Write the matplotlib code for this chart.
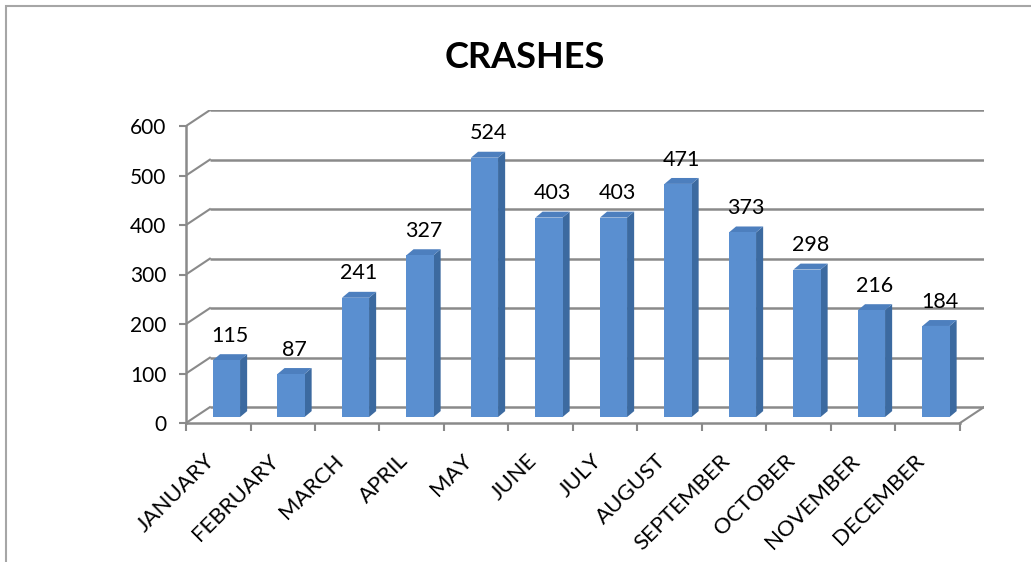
import numpy as np
import matplotlib
matplotlib.use('Agg')
import matplotlib.pyplot as plt
from matplotlib.patches import Polygon, Rectangle

# Datos
meses = ['JANUARY', 'FEBRUARY', 'MARCH', 'APRIL', 'MAY', 'JUNE', 'JULY',
         'AUGUST', 'SEPTEMBER', 'OCTOBER', 'NOVEMBER', 'DECEMBER']
choques = [115, 87, 241, 327, 524, 403, 403, 471, 373, 298, 216, 184]
y_ticks = [0, 100, 200, 300, 400, 500, 600]

plt.rcParams['font.family'] = ['Lato', 'DejaVu Sans']

fig = plt.figure(figsize=(10.31, 5.62), dpi=100)
# marco del grafico (se sale por la derecha y por abajo)
fig.patches.append(Rectangle((6 / 1031, -0.05), 1.1, 1 - 6 / 562 + 0.05,
                             transform=fig.transFigure, fill=False,
                             edgecolor='#a6a6a6', linewidth=1.5))

# profundidad 3D en unidades de datos
dx, dy = 0.37, 32          # pared del fondo
bx, by = 0.128, 12         # posicion frontal de la barra
sx, sy = 0.11, 12          # lado de la barra
w = 0.42
ymax = 600

ax = fig.add_axes([186 / 1031, (562 - 423) / 562, (12 + dx) * 64.5 / 1031, (ymax + dy) * 0.495 / 562])
ax.set_xlim(0, 12 + dx)
ax.set_ylim(0, ymax + dy)

grid_c = '#8a8a8a'
for v in y_ticks:
    ax.plot([dx, 12 + dx], [v + dy, v + dy], color=grid_c, lw=1.8, solid_capstyle='butt', zorder=1)
    ax.plot([0, dx], [v, v + dy], color=grid_c, lw=1.5, zorder=1)
ax.plot([12, 12 + dx], [0, dy], color=grid_c, lw=1.5, zorder=1)

# barras
front_c, side_c, top_c = '#5A8FD0', '#3C6AA0', '#4D7FBE'
for i, v in enumerate(choques):
    x0 = i + 0.5 - w / 2 + bx
    x1 = x0 + w
    ax.add_patch(Polygon([(x1, by), (x1 + sx, by + sy), (x1 + sx, by + v + sy), (x1, by + v)],
                         closed=True, facecolor=side_c, edgecolor='none', zorder=3))
    ax.add_patch(Polygon([(x0, by + v), (x1, by + v), (x1 + sx, by + v + sy), (x0 + sx, by + v + sy)],
                         closed=True, facecolor=top_c, edgecolor='none', zorder=3))
    ax.add_patch(Rectangle((x0, by), w, v, facecolor=front_c, edgecolor='none', zorder=4))
    ax.annotate(str(v), (x0 + (w + sx) / 2, by + v + sy), xytext=(0, 6),
                textcoords='offset points', ha='center', va='bottom', fontsize=15.5)

# ejes
for s in ['top', 'right']:
    ax.spines[s].set_visible(False)
ax.spines['left'].set_bounds(0, ymax)
ax.spines['bottom'].set_bounds(0, 12)
for s in ['left', 'bottom']:
    ax.spines[s].set_color(grid_c)
    ax.spines[s].set_linewidth(1.8)
ax.set_yticks(y_ticks)
ax.set_yticklabels([str(t) for t in y_ticks], fontsize=15)
ax.tick_params(axis='y', length=5, width=1.5, color=grid_c, pad=9)
ax.set_xticks(np.arange(12) + 0.5)
ax.set_xticklabels(meses, rotation=45, ha='right', va='top', fontsize=16)
ax.tick_params(axis='x', length=0, pad=20)
ax.set_xticks(np.arange(13), minor=True)
ax.tick_params(axis='x', which='minor', length=6, width=1.5, color=grid_c)
ax.patch.set_visible(False)

fig.text(525 / 1031, 1 - 58 / 562, 'CRASHES', ha='center', va='center',
         fontsize=26, fontweight='bold')

fig.savefig('out.png', dpi=100)
